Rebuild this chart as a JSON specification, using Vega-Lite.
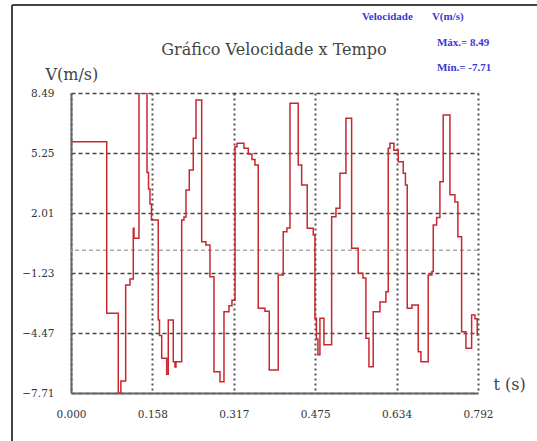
{
  "$schema": "https://vega.github.io/schema/vega-lite/v6.json",
  "width": 407,
  "height": 300,
  "autosize": {"type": "none"},
  "padding": {"left": 71, "top": 93, "right": 59, "bottom": 48},
  "background": "white",
  "view": {"stroke": null},
  "layer": [
    {
      "data": {"values": [{}]},
      "mark": {"type": "rule", "color": "#aaaaaa", "strokeWidth": 1.5, "strokeDash": [4, 3]},
      "encoding": {"y": {"datum": 0, "type": "quantitative"}}
    },
    {
      "data": {
        "values": [
          {"t": 0, "v": 5.86},
          {"t": 0.0695, "v": -3.41},
          {"t": 0.092, "v": -7.71},
          {"t": 0.097, "v": -7.06},
          {"t": 0.1064, "v": -1.88},
          {"t": 0.1148, "v": -1.55},
          {"t": 0.1212, "v": 1.18},
          {"t": 0.1226, "v": 0.64},
          {"t": 0.1323, "v": 8.49},
          {"t": 0.1479, "v": 4.2},
          {"t": 0.1508, "v": 3.3},
          {"t": 0.1537, "v": 2.5},
          {"t": 0.1566, "v": 1.63},
          {"t": 0.1698, "v": -3.77},
          {"t": 0.1722, "v": -4.6},
          {"t": 0.1765, "v": -5.84},
          {"t": 0.1862, "v": -6.7},
          {"t": 0.1893, "v": -3.77},
          {"t": 0.199, "v": -6.02},
          {"t": 0.2023, "v": -6.3},
          {"t": 0.2043, "v": -6.02},
          {"t": 0.2154, "v": 1.63},
          {"t": 0.2198, "v": 1.8},
          {"t": 0.2237, "v": 3.25},
          {"t": 0.2302, "v": 4.33},
          {"t": 0.2379, "v": 6.04},
          {"t": 0.2432, "v": 8.11},
          {"t": 0.2543, "v": 0.46},
          {"t": 0.2626, "v": 0.28},
          {"t": 0.2704, "v": -1.43},
          {"t": 0.2782, "v": -6.56},
          {"t": 0.2899, "v": -7.1},
          {"t": 0.2977, "v": -3.32},
          {"t": 0.3074, "v": -3.0},
          {"t": 0.3132, "v": -2.7},
          {"t": 0.3191, "v": 5.59},
          {"t": 0.323, "v": 5.77},
          {"t": 0.3366, "v": 5.5},
          {"t": 0.345, "v": 5.2},
          {"t": 0.3521, "v": 4.9},
          {"t": 0.358, "v": 4.6},
          {"t": 0.3644, "v": -3.14},
          {"t": 0.3774, "v": -3.3},
          {"t": 0.3858, "v": -6.47},
          {"t": 0.4033, "v": -1.34},
          {"t": 0.413, "v": 1.0},
          {"t": 0.4202, "v": 1.2},
          {"t": 0.4261, "v": 7.93},
          {"t": 0.4422, "v": 4.6},
          {"t": 0.4488, "v": 3.52},
          {"t": 0.4597, "v": 1.18},
          {"t": 0.4714, "v": 0.82},
          {"t": 0.4747, "v": -3.68},
          {"t": 0.4776, "v": -4.8},
          {"t": 0.4805, "v": -5.65},
          {"t": 0.4844, "v": -3.68},
          {"t": 0.4922, "v": -5.1},
          {"t": 0.5072, "v": 1.81},
          {"t": 0.5156, "v": 2.26},
          {"t": 0.5233, "v": 4.15},
          {"t": 0.535, "v": 7.12},
          {"t": 0.5461, "v": 0.1},
          {"t": 0.5589, "v": -1.25},
          {"t": 0.5681, "v": -1.5},
          {"t": 0.5739, "v": -4.76},
          {"t": 0.5798, "v": -6.29},
          {"t": 0.5881, "v": -3.32},
          {"t": 0.6012, "v": -2.79},
          {"t": 0.6128, "v": -2.24},
          {"t": 0.6173, "v": 5.5},
          {"t": 0.6206, "v": 5.77},
          {"t": 0.6284, "v": 5.4},
          {"t": 0.6368, "v": 4.78},
          {"t": 0.6465, "v": 4.15},
          {"t": 0.6508, "v": 3.52},
          {"t": 0.6543, "v": -3.14},
          {"t": 0.6634, "v": -2.96},
          {"t": 0.6757, "v": -5.48},
          {"t": 0.6809, "v": -6.02},
          {"t": 0.6951, "v": -1.34},
          {"t": 0.7023, "v": -1.15},
          {"t": 0.7049, "v": 1.36},
          {"t": 0.7115, "v": 1.77},
          {"t": 0.7179, "v": 3.7},
          {"t": 0.7243, "v": 7.3},
          {"t": 0.7374, "v": 3.0},
          {"t": 0.7471, "v": 2.6},
          {"t": 0.7529, "v": 0.73},
          {"t": 0.7601, "v": -4.4},
          {"t": 0.7685, "v": -5.3},
          {"t": 0.7796, "v": -3.5},
          {"t": 0.786, "v": -3.7},
          {"t": 0.7905, "v": -4.58},
          {"t": 0.792, "v": -4.58}
        ]
      },
      "mark": {"type": "line", "color": "#c8282d", "strokeWidth": 1.5, "interpolate": "step-after", "clip": true},
      "encoding": {
        "x": {
          "field": "t",
          "type": "quantitative",
          "scale": {"domain": [0, 0.792], "nice": false, "zero": false},
          "axis": {
            "values": [0, 0.1584, 0.3168, 0.4752, 0.6336, 0.792],
            "format": ".3f",
            "grid": true,
            "gridDash": [2, 3],
            "gridColor": "#555555",
            "gridWidth": 2,
            "ticks": false,
            "labelFont": "DejaVu Serif",
            "labelFontSize": 10.5,
            "labelColor": "#333333",
            "labelPadding": 16,
            "labelFlush": false,
            "labelOverlap": false,
            "domainColor": "#666666",
            "domainWidth": 2,
            "title": "t (s)",
            "titleX": 422,
            "titleY": -4,
            "titleAlign": "left",
            "titleBaseline": "alphabetic",
            "titleFont": "DejaVu Serif",
            "titleFontSize": 16,
            "titleFontWeight": "normal",
            "titleColor": "#444444"
          }
        },
        "y": {
          "field": "v",
          "type": "quantitative",
          "scale": {"domain": [-7.71, 8.49], "nice": false, "zero": false},
          "axis": {
            "values": [-7.71, -4.47, -1.23, 2.01, 5.25, 8.49],
            "format": ".2f",
            "grid": true,
            "gridDash": [4, 3],
            "gridColor": "#444444",
            "gridWidth": 1.5,
            "ticks": false,
            "labelFont": "DejaVu Serif",
            "labelFontSize": 10.5,
            "labelColor": "#333333",
            "labelPadding": 17,
            "labelFlush": false,
            "labelOverlap": false,
            "domainColor": "#666666",
            "domainWidth": 2,
            "title": "V(m/s)",
            "titleAngle": 0,
            "titleX": -26,
            "titleY": -14,
            "titleAlign": "left",
            "titleBaseline": "alphabetic",
            "titleFont": "DejaVu Serif",
            "titleFontSize": 16,
            "titleFontWeight": "normal",
            "titleColor": "#444444"
          }
        }
      }
    },
    {
      "data": {"values": [{}]},
      "mark": {"type": "rule", "color": "#444444", "strokeWidth": 2, "clip": false},
      "encoding": {"x": {"datum": -0.1148}, "y": {"datum": 13.24}, "y2": {"datum": -10.4}}
    },
    {
      "data": {"values": [{}]},
      "mark": {"type": "rule", "color": "#444444", "strokeWidth": 2, "clip": false},
      "encoding": {"y": {"datum": 13.24}, "x": {"datum": -0.1148}, "x2": {"datum": 0.91}}
    },
    {
      "data": {"values": [{}]},
      "mark": {"type": "text", "font": "DejaVu Serif", "fontSize": 16, "color": "#444444", "align": "center", "baseline": "alphabetic", "clip": false},
      "encoding": {"x": {"datum": 0.3949}, "y": {"datum": 10.54}, "text": {"value": "Gráfico Velocidade x Tempo"}}
    },
    {
      "data": {"values": [{}]},
      "mark": {"type": "text", "font": "Liberation Serif", "fontWeight": "bold", "fontSize": 11, "color": "#3a3ad6", "align": "left", "baseline": "middle", "clip": false},
      "encoding": {"x": {"datum": 0.5661}, "y": {"datum": 12.59}, "text": {"value": "Velocidade"}}
    },
    {
      "data": {"values": [{}]},
      "mark": {"type": "text", "font": "Liberation Serif", "fontWeight": "bold", "fontSize": 11, "color": "#3a3ad6", "align": "left", "baseline": "middle", "clip": false},
      "encoding": {"x": {"datum": 0.7023}, "y": {"datum": 12.59}, "text": {"value": "V(m/s)"}}
    },
    {
      "data": {"values": [{}]},
      "mark": {"type": "text", "font": "Liberation Serif", "fontWeight": "bold", "fontSize": 11, "color": "#3a3ad6", "align": "left", "baseline": "middle", "clip": false},
      "encoding": {"x": {"datum": 0.7121}, "y": {"datum": 11.19}, "text": {"value": "Máx.= 8.49"}}
    },
    {
      "data": {"values": [{}]},
      "mark": {"type": "text", "font": "Liberation Serif", "fontWeight": "bold", "fontSize": 11, "color": "#3a3ad6", "align": "left", "baseline": "middle", "clip": false},
      "encoding": {"x": {"datum": 0.7121}, "y": {"datum": 9.84}, "text": {"value": "Mín.= -7.71"}}
    }
  ]
}
